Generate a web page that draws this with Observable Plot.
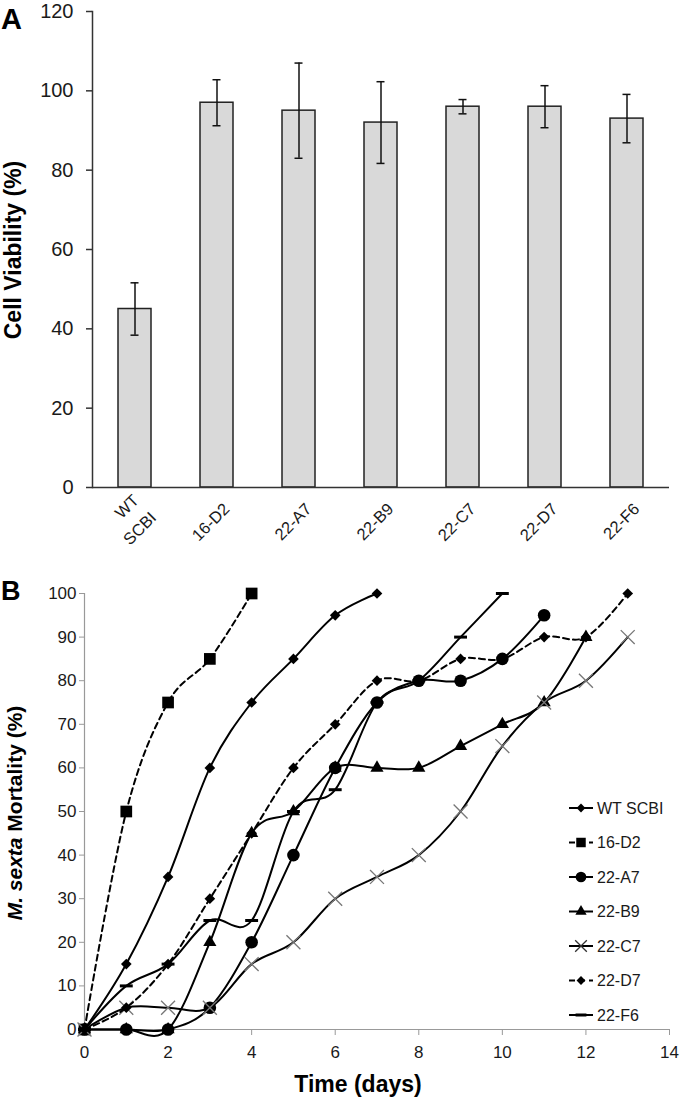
<!DOCTYPE html>
<html>
<head>
<meta charset="utf-8">
<script src="https://cdn.jsdelivr.net/npm/d3@7"></script>
<script src="https://cdn.jsdelivr.net/npm/@observablehq/plot@0.6"></script>
<style>
  html, body { margin: 0; padding: 0; background: #fff; }
  svg { display: block; }
</style>
</head>
<body>
<div id="chart"></div>
<script>
// ---------- Panel A data ----------
const strains = ["WT\nSCBI", "16-D2", "22-A7", "22-B9", "22-C7", "22-D7", "22-F6"];
const viability = [45, 97, 95, 92, 96, 96, 93];
const viabilityErr = [6.6, 5.8, 12, 10.3, 1.8, 5.3, 6.1];
const yTicksA = [0, 20, 40, 60, 80, 100, 120];

// ---------- Panel B data ----------
const seriesNames = ["WT SCBI", "16-D2", "22-A7", "22-B9", "22-C7", "22-D7", "22-F6"];
const mortWT = [0, 15, 35, 60, 75, 85, 95, 100];
const mort16D2 = [0, 50, 75, 85, 100];
const mort22A7 = [0, 0, 0, 5, 20, 40, 60, 75, 80, 80, 85, 95];
const mort22B9 = [0, 0, 0, 20, 45, 50, 60, 60, 60, 65, 70, 75, 90];
const mort22C7 = [0, 5, 5, 5, 15, 20, 30, 35, 40, 50, 65, 75, 80, 90];
const mort22D7 = [0, 5, 15, 30, 45, 60, 70, 80, 80, 85, 85, 90, 90, 100];
const mort22F6 = [0, 10, 15, 25, 25, 50, 55, 75, 80, 90, 100];
const xTicksB = [0, 2, 4, 6, 8, 10, 12, 14];
const yTicksB = [0, 10, 20, 30, 40, 50, 60, 70, 80, 90, 100];

const FONT = "'Liberation Sans', Arial, Helvetica, sans-serif";

// ---------- Panel A ----------
const dataA = strains.map((s, i) => ({strain: s, v: viability[i], e: viabilityErr[i]}));

const plotA = Plot.plot({
  width: 680,
  height: 550,
  marginTop: 11,
  marginBottom: 63,
  marginLeft: 92,
  marginRight: 11,
  style: {fontFamily: FONT, color: "#1a1a1a", background: "white"},
  x: {type: "band", domain: strains, paddingInner: 0.6, paddingOuter: 0.3, axis: null},
  y: {domain: [0, 120], axis: null},
  marks: [
    Plot.barY(dataA, {x: "strain", y: "v", fill: "#d9d9d9", stroke: "#222", strokeWidth: 1.5}),
    Plot.ruleX(dataA, {x: "strain", y1: d => d.v - d.e, y2: d => d.v + d.e, stroke: "#111", strokeWidth: 1.5}),
    Plot.tickY(dataA, {x: "strain", y: d => d.v + d.e, stroke: "#111", strokeWidth: 1.5, insetLeft: 12.5, insetRight: 12.5}),
    Plot.tickY(dataA, {x: "strain", y: d => d.v - d.e, stroke: "#111", strokeWidth: 1.5, insetLeft: 12.5, insetRight: 12.5}),
    Plot.frame({anchor: "left", stroke: "#333", strokeWidth: 1.5}),
    Plot.ruleY([0], {stroke: "#333", strokeWidth: 1.5}),
    Plot.axisY({ticks: yTicksA, tickSize: 6, tickPadding: 13, fontSize: 20, stroke: "#333", strokeWidth: 1.5, label: null, tickFormat: d => String(d)}),
    Plot.text(dataA, {x: "strain", y: () => 0, text: "strain", rotate: -45, textAnchor: "end", lineAnchor: "middle", lineHeight: 1.5, dx: 8, dy: 17, fontSize: 16.5, fill: "#1a1a1a"})
  ]
});

// ---------- Panel B ----------
const seriesValues = [mortWT, mort16D2, mort22A7, mort22B9, mort22C7, mort22D7, mort22F6];
const dataB = seriesNames.flatMap((name, s) => seriesValues[s].map((v, day) => ({series: name, day, v})));
const dashedSeries = ["16-D2", "22-D7"];

const dashSymbol = {
  draw(ctx, size) {
    const w = Math.sqrt(size) * 1.3, h = 3;
    ctx.moveTo(-w / 2, -h / 2);
    ctx.lineTo(w / 2, -h / 2);
    ctx.lineTo(w / 2, h / 2);
    ctx.lineTo(-w / 2, h / 2);
    ctx.closePath();
  }
};

const markerStyle = {
  "WT SCBI": {symbol: "diamond2", r: 4.8, fill: "#000"},
  "16-D2": {symbol: "square", r: 6.6, fill: "#000"},
  "22-A7": {symbol: "circle", r: 6.3, fill: "#000"},
  "22-B9": {symbol: "triangle", r: 4.9, fill: "#000"},
  "22-C7": {symbol: "times", r: 6.4, fill: "none", stroke: "#777", strokeWidth: 1.3},
  "22-D7": {symbol: "diamond2", r: 4.8, fill: "#000"},
  "22-F6": {symbol: dashSymbol, r: 5.6, fill: "#000"}
};

const marksB = [
  Plot.ruleX([0], {stroke: "#999", strokeWidth: 1.2}),
  Plot.ruleY([0], {stroke: "#999", strokeWidth: 1.2}),
  Plot.axisX({ticks: xTicksB, tickSize: 6, tickPadding: 10, fontSize: 17, stroke: "#999", label: null}),
  Plot.axisY({ticks: yTicksB, tickSize: 5, tickPadding: 3, fontSize: 17, stroke: "#999", label: null})
];
for (const name of seriesNames) {
  const rows = dataB.filter(d => d.series === name);
  marksB.push(Plot.line(rows, {
    x: "day", y: "v", curve: "cardinal", tension: 0,
    stroke: "#000", strokeWidth: 2,
    strokeDasharray: dashedSeries.includes(name) ? "6,4" : null
  }));
  const m = markerStyle[name];
  marksB.push(Plot.dot(rows, {
    x: "day", y: "v", symbol: m.symbol, r: m.r,
    fill: m.fill, stroke: m.stroke || "none", strokeWidth: m.strokeWidth || 1
  }));
}

const plotB = Plot.plot({
  width: 680,
  height: 547,
  marginTop: 43,
  marginBottom: 68,
  marginLeft: 84,
  marginRight: 11,
  style: {fontFamily: FONT, color: "#1a1a1a", background: "white"},
  x: {domain: [0, 14], axis: null},
  y: {domain: [0, 100], axis: null},
  marks: marksB
});

// ---------- Titles & legend (d3) ----------
const sA = d3.select(plotA);
sA.append("text").attr("x", 1).attr("y", 29).attr("text-anchor", "start")
  .attr("font-family", FONT).attr("font-size", 29).attr("font-weight", "bold").attr("fill", "#000").text("A");
sA.append("text").attr("transform", "translate(13,250) rotate(-90)")
  .attr("text-anchor", "middle").attr("dominant-baseline", "central")
  .attr("font-family", FONT).attr("font-size", 23).attr("font-weight", "bold").attr("fill", "#000")
  .text("Cell Viability (%)");

const sB = d3.select(plotB);
sB.append("text").attr("x", 1).attr("y", 50).attr("text-anchor", "start")
  .attr("font-family", FONT).attr("font-size", 27).attr("font-weight", "bold").attr("fill", "#000").text("B");
const yt = sB.append("text").attr("transform", "translate(14,263) rotate(-90)")
  .attr("text-anchor", "middle").attr("dominant-baseline", "central")
  .attr("font-family", FONT).attr("font-size", 21).attr("font-weight", "bold").attr("fill", "#000");
yt.append("tspan").attr("font-style", "italic").text("M. sexta");
yt.append("tspan").text(" Mortality (%)");
sB.append("text").attr("x", 358).attr("y", 542).attr("text-anchor", "middle")
  .attr("font-family", FONT).attr("font-size", 23).attr("font-weight", "bold").attr("fill", "#000")
  .text("Time (days)");

// legend
const legendSymbols = {
  "WT SCBI": {type: d3.symbolDiamond2, size: 50, fill: "#000"},
  "16-D2": {type: d3.symbolSquare, size: 90, fill: "#000"},
  "22-A7": {type: d3.symbolCircle, size: 90, fill: "#000"},
  "22-B9": {type: d3.symbolTriangle, size: 55, fill: "#000"},
  "22-C7": {type: d3.symbolTimes, size: 90, fill: "none", stroke: "#333"},
  "22-D7": {type: d3.symbolDiamond2, size: 50, fill: "#000"},
  "22-F6": {type: dashSymbol, size: 70, fill: "#000"}
};
const lg = sB.append("g").attr("font-family", FONT).attr("font-size", 16).attr("fill", "#1a1a1a");
seriesNames.forEach((name, i) => {
  const y = 258 + i * 34.5;
  const g = lg.append("g").attr("transform", `translate(0,${y})`);
  g.append("line").attr("x1", 569).attr("x2", 593).attr("y1", 0).attr("y2", 0)
    .attr("stroke", "#000").attr("stroke-width", 2)
    .attr("stroke-dasharray", dashedSeries.includes(name) ? "6,4" : null);
  const ls = legendSymbols[name];
  g.append("path").attr("transform", "translate(581,0)")
    .attr("d", d3.symbol(ls.type, ls.size)())
    .attr("fill", ls.fill).attr("stroke", ls.stroke || "none").attr("stroke-width", 1.3);
  g.append("text").attr("x", 597).attr("y", 0).attr("text-anchor", "start")
    .attr("dominant-baseline", "central").text(name);
});

document.getElementById("chart").append(plotA, plotB);
</script>
</body>
</html>
